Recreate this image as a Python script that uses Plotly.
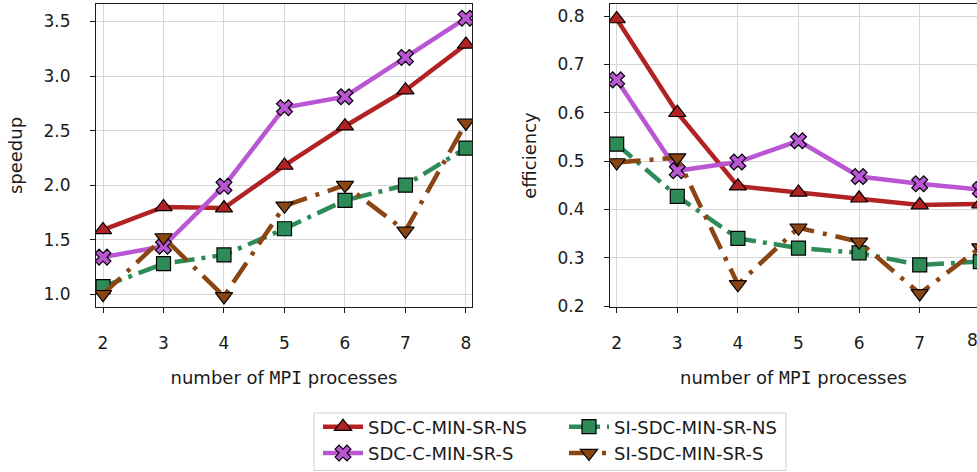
import plotly.graph_objects as go

procs = [2, 3, 4, 5, 6, 7, 8]

names = ["SDC-C-MIN-SR-NS", "SDC-C-MIN-SR-S", "SI-SDC-MIN-SR-NS", "SI-SDC-MIN-SR-S"]

speedup_sdc_ns = [1.59, 1.80, 1.79, 2.18, 2.54, 2.87, 3.29]
speedup_sdc_s = [1.34, 1.44, 1.99, 2.71, 2.81, 3.17, 3.53]
speedup_si_ns = [1.07, 1.28, 1.36, 1.60, 1.86, 2.00, 2.34]
speedup_si_s = [1.00, 1.52, 0.98, 1.81, 2.00, 1.58, 2.57]

eff_sdc_ns = [0.794, 0.600, 0.448, 0.435, 0.423, 0.409, 0.411]
eff_sdc_s = [0.668, 0.480, 0.498, 0.542, 0.468, 0.453, 0.441]
eff_si_ns = [0.535, 0.427, 0.340, 0.320, 0.310, 0.285, 0.292]
eff_si_s = [0.497, 0.507, 0.245, 0.362, 0.333, 0.226, 0.321]

speed_ticks = [1.0, 1.5, 2.0, 2.5, 3.0, 3.5]
eff_ticks = [0.2, 0.3, 0.4, 0.5, 0.6, 0.7, 0.8]

colors = ["#B22222", "#BA55D3", "#2E8B57", "#8B4513"]
symbols = ["triangle-up", "x", "square", "triangle-down"]
msizes = [15, 14, 14, 15]
dashes = ["solid", "solid", "20px,7px,4px,7px", "24px,9px,4px,9px"]
legends = ["legend", "legend", "legend2", "legend2"]

speed = [speedup_sdc_ns, speedup_sdc_s, speedup_si_ns, speedup_si_s]
eff = [eff_sdc_ns, eff_sdc_s, eff_si_ns, eff_si_s]

W, H = 977, 472
fig = go.Figure()

for i in range(4):
    common = dict(
        mode="lines+markers",
        line=dict(color=colors[i], width=4.5, dash=dashes[i]),
        marker=dict(symbol=symbols[i], size=msizes[i], color=colors[i],
                    line=dict(color="black", width=1.2)),
        name=names[i],
    )
    fig.add_trace(go.Scatter(x=procs, y=speed[i], xaxis="x", yaxis="y",
                             legend=legends[i], showlegend=True, **common))
    fig.add_trace(go.Scatter(x=procs, y=eff[i], xaxis="x2", yaxis="y2",
                             showlegend=False, **common))

FONT = "DejaVu Sans"
tickfont = dict(family=FONT, size=17, color="#1a1a1a")
titlefont = dict(family=FONT, size=18, color="#1a1a1a")
xtitle = 'number of <span style="font-family:DejaVu Sans Mono">MPI</span> processes'

axis_common = dict(
    showline=True, linecolor="#1a1a1a", linewidth=1.2,
    ticks="outside", ticklen=5, tickwidth=1.2, tickcolor="#1a1a1a",
    showgrid=True, gridcolor="#d6d6d6", gridwidth=1,
    zeroline=False, tickfont=tickfont,
)

ph = H - 4 - 165

fig.update_layout(
    width=W, height=H,
    margin=dict(l=0, r=0, t=4, b=165),
    plot_bgcolor="white", paper_bgcolor="white",
    font=dict(family=FONT, size=17, color="#1a1a1a"),
    xaxis=dict(domain=[96 / W, 472 / W], range=[1.884, 8.1], tickvals=procs,
               mirror=True, ticklabelstandoff=15,
               title=dict(text=xtitle, font=titlefont, standoff=19),
               anchor="y", **axis_common),
    yaxis=dict(range=[0.883, 3.66], tickvals=speed_ticks, tickformat=".1f",
               mirror=True, ticklabelstandoff=16,
               title=dict(text="speedup", font=titlefont, standoff=16),
               anchor="x", **axis_common),
    xaxis2=dict(domain=[610 / W, 1.0], range=[1.89, 7.945], tickvals=procs,
                mirror=True, ticklabelstandoff=15,
                title=dict(text=xtitle, font=titlefont, standoff=19),
                anchor="y2", **axis_common),
    yaxis2=dict(range=[0.198, 0.825], tickvals=eff_ticks, tickformat=".1f",
                mirror=False, ticklabelstandoff=16,
                title=dict(text="efficiency", font=titlefont, standoff=16),
                anchor="x2", **axis_common),
    legend=dict(x=318 / W, y=(307 - 408.5) / ph,
                xanchor="left", yanchor="top", itemwidth=40,
                bgcolor="rgba(0,0,0,0)", borderwidth=0,
                font=titlefont, tracegroupgap=0),
    legend2=dict(x=564 / W, y=(307 - 408.5) / ph,
                 xanchor="left", yanchor="top", itemwidth=40,
                 bgcolor="rgba(0,0,0,0)", borderwidth=0,
                 font=titlefont, tracegroupgap=0),
    showlegend=True,
)

# partially visible last tick label of the right panel (clipped by the page edge)
fig.add_annotation(x=980.3 / W, y=0, xref="paper", yref="paper", text="8",
                   showarrow=False, yanchor="top", yshift=-21, font=tickfont)

# common legend frame
fig.add_shape(type="rect", xref="paper", yref="paper",
              x0=314 / W, x1=786 / W, y0=(307 - 413) / ph, y1=(307 - 470.5) / ph,
              line=dict(color="#d0d0d0", width=1), fillcolor="rgba(0,0,0,0)")

fig.write_html("out.html", config={"displayModeBar": False},
               post_script="document.body.style.margin='0';")
